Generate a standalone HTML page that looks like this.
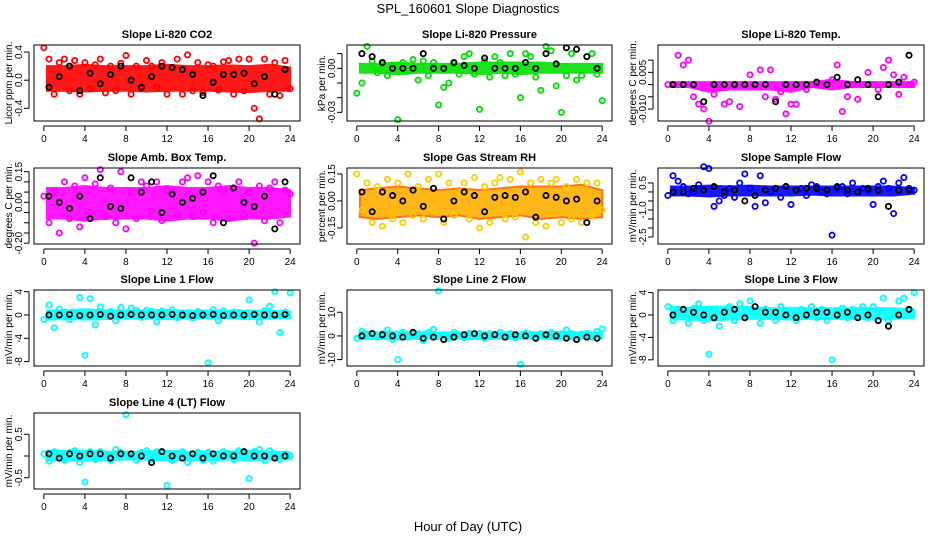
<!DOCTYPE html>
<html><head><meta charset="utf-8"><style>
body{margin:0;background:#fff}
svg{display:block;font-family:"Liberation Sans",Arial,sans-serif}
</style></head><body>
<svg id="c" width="936" height="540" viewBox="0 0 936 540">
<text x="468" y="13" text-anchor="middle" font-size="13">SPL_160601  Slope Diagnostics</text>
<text x="468" y="531" text-anchor="middle" font-size="13">Hour of Day (UTC)</text>
</svg>
<script>
const hoursC=[0,0.5,1,1.5,2,2.5,3,3.5,4,4.5,5,5.5,6,6.5,7,7.5,8,8.5,9,9.5,10,10.5,11,11.5,12,12.5,13,13.5,14,14.5,15,15.5,16,16.5,17,17.5,18,18.5,19,19.5,20,20.5,21,21.5,22,22.5,23,23.5,24];
const hoursB=[0.5,1.5,2.5,3.5,4.5,5.5,6.5,7.5,8.5,9.5,10.5,11.5,12.5,13.5,14.5,15.5,16.5,17.5,18.5,19.5,20.5,21.5,22.5,23.5];
const hoursBand=[0.3,2,4,6,8,10,12,14,16,18,20,22,24];
const xTicks=[0,4,8,12,16,20,24];
const titles=["Slope Li-820 CO2","Slope Li-820 Pressure","Slope Li-820 Temp.","Slope Amb. Box Temp.","Slope Gas Stream RH","Slope Sample Flow","Slope Line 1 Flow","Slope Line 2 Flow","Slope Line 3 Flow","Slope Line 4 (LT) Flow"];
const yTitles=["Licor ppm per min.","kPa per min.","degrees C per min.","degrees C per min.","percent per min.","mV/min per min.","mV/min per min.","mV/min per min.","mV/min per min.","mV/min per min."];
const yDomains=[[-0.58,0.5],[-0.0359,0.0159],[-0.0149,0.0162],[-0.204,0.168],[-0.239,0.183],[-2.89,1.33],[-8.75,4.29],[-12.7,19.4],[-9.1,4.46],[-0.76,0.99]];
const yTicks=[[-0.4,0,0.4],[-0.03,-0.02,-0.01,0,0.01],[-0.01,-0.005,0,0.005,0.01],[-0.2,-0.15,-0.1,-0.05,0,0.05,0.1,0.15],[-0.15,0,0.15],[-2.5,-2,-1.5,-1,-0.5,0,0.5],[-8,-4,0,4],[-10,0,10],[-8,-4,0,4],[-0.5,0,0.5]];
const yTickLabels=[["-0.4","0.0","0.4"],["-0.03","","","0.00",""],["-0.010","","","0.005",""],["-0.20","","","","0.00","","","0.15"],["-0.15","0.00","0.15"],["-2.5","","","-1.0","","","0.5"],["-8","-4","0","4"],["-10","0","10"],["-8","-4","0","4"],["-0.5","","0.5"]];
const colors=["#ff0000","#00e000","#ff00ff","#ff00ff","#ffcc00","#0000ff","#00ffff","#00ffff","#00ffff","#00ffff"];
const bandLo=[[-0.15,-0.15,-0.16,-0.15,-0.15,-0.16,-0.15,-0.15,-0.15,-0.16,-0.17,-0.15,-0.15],[-0.003,-0.003,-0.004,-0.003,-0.003,-0.003,-0.004,-0.003,-0.004,-0.003,-0.003,-0.003,-0.003],[-0.001,-0.001,-0.003,-0.002,-0.002,-0.002,-0.003,-0.001,-0.002,-0.001,-0.001,-0.001,-0.001],[-0.08,-0.08,-0.09,-0.08,-0.08,-0.08,-0.09,-0.08,-0.08,-0.09,-0.08,-0.08,-0.07],[-0.09,-0.1,-0.09,-0.08,-0.09,-0.08,-0.1,-0.09,-0.08,-0.1,-0.09,-0.1,-0.09],[-0.2,-0.2,-0.25,-0.2,-0.2,-0.2,-0.2,-0.15,-0.2,-0.2,-0.2,-0.2,-0.1],[-0.8,-0.7,-0.8,-0.7,-0.6,-0.6,-0.7,-0.6,-0.6,-0.6,-0.7,-0.6,-0.5],[-1.5,-1.2,-1.5,-1.2,-1.2,-1.2,-1.3,-1.2,-1.2,-1.2,-1.5,-1.2,-1.0],[-0.8,-0.8,-1.0,-0.8,-0.7,-0.7,-0.8,-0.7,-0.7,-0.7,-0.8,-0.7,-0.5],[-0.1,-0.1,-0.1,-0.1,-0.08,-0.08,-0.1,-0.1,-0.1,-0.08,-0.1,-0.08,-0.08]];
const bandHi=[[0.2,0.2,0.22,0.2,0.2,0.2,0.22,0.2,0.2,0.21,0.2,0.22,0.18],[0.003,0.003,0.004,0.003,0.003,0.003,0.004,0.004,0.004,0.004,0.003,0.003,0.003],[0.001,0.001,0.001,0.001,0.001,0.001,0.001,0.001,0.002,0.001,0.001,0.001,0.001],[0.07,0.07,0.08,0.07,0.07,0.07,0.08,0.07,0.07,0.08,0.07,0.07,0.06],[0.06,0.07,0.08,0.07,0.06,0.07,0.06,0.07,0.08,0.08,0.08,0.09,0.06],[0.3,0.3,0.35,0.3,0.35,0.3,0.3,0.3,0.3,0.3,0.3,0.3,0.2],[0.8,0.8,1.0,0.8,0.8,0.8,0.9,0.7,0.8,0.7,0.8,0.7,0.6],[1.8,1.5,1.8,1.5,1.5,1.5,1.5,1.5,1.5,1.5,1.8,1.5,1.2],[1.5,1.3,1.5,1.5,1.4,1.2,1.3,1.2,1.2,1.2,1.3,1.2,1.0],[0.12,0.12,0.12,0.1,0.1,0.1,0.12,0.1,0.1,0.1,0.12,0.1,0.08]];
const colVals=[
[0.46,0.3,-0.2,0.25,0.3,-0.15,0.28,-0.2,0.25,-0.12,0.22,0.3,-0.18,0.2,-0.15,0.24,0.35,-0.2,0.2,-0.12,0.28,0.2,-0.1,0.25,-0.2,0.18,0.3,-0.2,0.36,-0.15,0.25,-0.18,0.22,0.2,-0.14,0.26,0.28,-0.2,0.3,-0.15,0.3,-0.4,-0.55,0.3,-0.2,0.25,-0.22,0.28,-0.12],
[-0.017,-0.01,0.015,0.005,-0.003,0.003,-0.005,0.002,-0.035,0.004,-0.002,0.006,-0.008,0.005,-0.005,0.004,-0.025,-0.013,-0.01,0.003,-0.004,0.008,0.01,-0.004,-0.028,0.005,-0.006,0.008,0.004,-0.005,0.01,-0.004,-0.02,0.01,0.008,-0.006,-0.015,0.015,0.012,-0.012,-0.03,-0.005,0.01,-0.008,-0.005,0.008,0.01,-0.004,-0.022],
[0,0,0.012,0.008,0.01,-0.005,-0.008,-0.01,-0.015,-0.004,0,-0.008,-0.007,0,-0.009,0,0.004,0,0.006,-0.005,0.006,-0.006,-0.003,-0.012,-0.008,-0.008,0,-0.002,0,0,0,0,0.002,0.008,-0.011,-0.005,0,-0.006,0,0.005,0,-0.002,0.007,0.01,0.004,-0.004,0.003,0,0.001],
[0.03,-0.1,0.05,-0.15,0.1,-0.08,0.08,-0.12,0.12,-0.05,0.09,0.16,-0.07,0.07,-0.1,0.15,-0.13,0.05,-0.08,0.1,0.08,-0.04,0.1,-0.09,0.06,0.05,-0.06,0.1,0.12,-0.07,0.13,-0.05,0.1,-0.1,0.08,0.05,-0.08,0.07,0.1,-0.06,0.05,-0.2,0.08,-0.09,0.07,0.1,-0.1,0.06,0.04],
[0.15,-0.05,0.1,-0.12,0.08,-0.14,0.12,-0.1,0.1,-0.12,0.15,-0.08,0.08,-0.1,0.12,-0.05,0.15,-0.12,0.1,-0.08,0.05,0.1,-0.1,0.13,-0.15,0.08,-0.12,0.1,0.13,-0.1,0.12,-0.09,0.16,-0.2,0.1,-0.12,0.12,-0.14,0.1,0.12,-0.12,0.08,-0.1,0.12,-0.12,0.1,-0.08,0.1,-0.05],
[-0.2,0.9,0.6,0.3,-0.1,0,0.4,1.4,1.3,-0.8,-0.5,-0.2,0.2,-0.3,0.5,1.0,0.2,-0.8,0.9,-0.6,0,0.2,-0.3,0.3,-0.7,0.1,0.2,-0.2,0.4,0.3,0,-0.1,-2.4,0.2,0.3,-0.1,0.5,0,0.2,0.1,-0.7,0.3,0.6,0.2,-1.2,0.5,0.8,0.2,0.1],
[-0.8,1.7,-2.2,1.0,0.5,-0.8,0.3,3.0,-6.9,2.8,-1.7,1.4,0,0.6,-1.0,1.3,0.2,1.2,0.8,-0.4,0.8,0.6,-1.2,0.7,0.5,0.9,-0.5,0.3,0.4,-0.5,0.6,0.2,-8.2,0.9,-1.0,0.7,0.2,0.5,0.4,-0.3,2.6,0.2,-1.2,0.7,1.5,4.0,-3.0,0.5,3.8],
[-1.0,2.0,0.5,1.2,-0.5,1.0,2.5,-1.5,-10.0,1.5,-0.5,0.8,1.0,-2.0,1.5,2.8,19.0,0.5,-1.0,1.5,0.5,-0.8,1.2,0.5,1.0,-1.0,1.0,0.8,1.5,-0.5,1.0,-0.8,-12.0,1.2,0.8,-1.0,1.0,0.5,1.5,-0.5,0.8,2.5,1.0,-1.5,0.8,1.2,-0.5,2.0,3.0],
[1.5,-1.0,1.0,0.5,-1.5,1.2,2.0,-1.0,-7.0,1.0,-2.0,0.5,1.5,-1.0,2.0,-0.5,2.5,0.5,-1.5,1.0,0.5,-1.0,1.5,0.8,0.5,-1.0,1.0,0.5,1.5,-0.5,1.0,-1.0,-8.0,0.8,1.2,-0.5,1.0,0.5,1.5,-0.5,1.5,0.5,3.0,-1.0,0.5,2.5,3.0,1.0,4.0],
[0.05,-0.12,0.1,0.05,-0.1,0.08,0.12,-0.15,-0.6,0.1,-0.08,0.1,0.05,-0.1,0.15,0.08,0.95,0,-0.1,0.08,0.12,-0.08,0.1,0.08,-0.68,-0.1,0.05,0.1,-0.15,0.05,0.08,-0.1,0.08,-0.12,0.05,0.1,0.06,-0.08,0.12,0.05,-0.52,0.1,0.15,-0.1,0.12,0.05,-0.08,0.05,0]];
const blackVals=[
[-0.1,0.05,0.2,-0.15,0.1,-0.05,0.08,0.2,0,-0.1,0.05,0.2,0.18,0.15,0.08,-0.22,-0.03,0.08,0.08,0.1,-0.05,0.05,-0.2,0.15],
[0.01,0.008,0.004,0,0,0,0.01,0,0,0.004,0.002,0,0.007,0,0,0,0.004,0,0.01,0.003,0.014,0.013,0.008,0],
[0,0,0,-0.007,0,0,0,0,0,0,-0.007,0,0,0,0.001,0,0.003,0,0.002,0,-0.005,0,0.001,0.012],
[0.03,0,-0.03,0.03,-0.08,0.12,-0.02,-0.03,0.12,0.05,0.1,-0.05,0.04,0,0.02,0.05,0.13,-0.1,0.07,0,-0.02,0.03,-0.13,0.1],
[0.05,-0.06,0.05,0.03,0,0.06,-0.03,0.07,-0.1,0,0.05,0.03,-0.06,0.02,0.03,0.02,0.05,-0.09,0.03,0.02,0,0.01,-0.12,0],
[0,0,0.2,0.1,0.3,0,0.1,-0.5,-0.2,0.1,0.2,0.3,0.1,0.2,0.2,0.1,0.3,0.1,0,0.2,0.1,-0.8,0.1,0.1],
[0,0,0.1,-0.1,0,0.1,-0.2,0,0.1,0,0,0,0.1,0,-0.1,0,0.1,-0.1,0,0,0.1,0,0,0.1],
[0,1,0.5,0,-0.5,1.5,-1,-0.5,-1.5,-0.5,0.5,1,0,0.5,-0.5,0.5,0,-1,0.5,0,-1,-1.5,-0.5,-1],
[0,1,0.5,0,-0.5,0.5,1,-0.5,1.5,0.5,0.5,0,-0.5,0,0.5,0.5,0,0.5,-0.5,0,-1,-2,0,1],
[0.05,-0.05,0.05,0,0.05,0.05,-0.05,0.05,0.05,0,-0.15,0.1,0,-0.05,0.05,-0.05,0.05,0,0,0.1,0,0,-0.05,0]];

const NS="http://www.w3.org/2000/svg",svg=document.getElementById('c');
const colX=[[34,300],[347,612],[658,924]],rowY=[[45,121],[168,244],[290,366],[413,489]];
function mk(t,a,p){const e=document.createElementNS(NS,t);for(const k in a)e.setAttribute(k,a[k]);(p||svg).appendChild(e);return e;}
titles.forEach((title,i)=>{
  const [x0,x1]=colX[i%3],[y0,y1]=rowY[Math.floor(i/3)];
  const g=mk('g',{});
  
  
  const xs=v=>x0+(v+0.96)/25.92*(x1-x0);
  const [lo,hi]=yDomains[i];
  const ys=v=>y1-(v-lo)/(hi-lo)*(y1-y0);
  const t=mk('text',{x:(x0+x1)/2,y:y0-7,'text-anchor':'middle','font-size':11,'font-weight':'bold'},g);t.textContent=title;
  
  
  const yt=mk('text',{transform:`translate(${x0-22},${(y0+y1)/2}) rotate(-90)`,'text-anchor':'middle','font-size':10},g);yt.textContent=yTitles[i];
  
  
  let pts=hoursBand.map((h,k)=>xs(h)+','+ys(bandHi[i][k]));
  pts=pts.concat(hoursBand.map((h,k)=>xs(h)+','+ys(bandLo[i][k])).reverse());
  const band=mk('polygon',{points:pts.join(' '),fill:i==4?'#ffb000':colors[i],opacity:0.9,stroke:i==4?'#ff6600':colors[i],'stroke-width':2},g);
  
  
  colVals[i].forEach((v,k)=>{const c=mk('circle',{cx:xs(hoursC[k]),cy:ys(v),r:2.6,fill:'none',stroke:colors[i],'stroke-width':1.8},g);
    
    });
  blackVals[i].forEach((v,k)=>{const c=mk('circle',{cx:xs(hoursB[k]),cy:ys(v),r:2.6,fill:'none',stroke:'#000','stroke-width':1.8},g);
    
    });
  const box=mk('rect',{x:x0,y:y0,width:x1-x0,height:y1-y0,fill:'none',stroke:'#000','stroke-width':1},g);
  
  
  mk('line',{x1:xs(0),x2:xs(24),y1:y1+5,y2:y1+5,stroke:'#000'},g);
  xTicks.forEach(v=>{mk('line',{x1:xs(v),x2:xs(v),y1:y1+5,y2:y1+10,stroke:'#000'},g);
    const l=mk('text',{x:xs(v),y:y1+21,'text-anchor':'middle','font-size':10},g);l.textContent=v;
    
    });
  const tk=yTicks[i];
  mk('line',{x1:x0-5,x2:x0-5,y1:ys(tk[0]),y2:ys(tk[tk.length-1]),stroke:'#000'},g);
  tk.forEach((v,k)=>{mk('line',{x1:x0-10,x2:x0-5,y1:ys(v),y2:ys(v),stroke:'#000'},g);
    const l=mk('text',{transform:`translate(${x0-12},${ys(v)}) rotate(-90)`,'text-anchor':'middle','font-size':10},g);l.textContent=yTickLabels[i][k];
    
    });
});
</script>
</body></html>
